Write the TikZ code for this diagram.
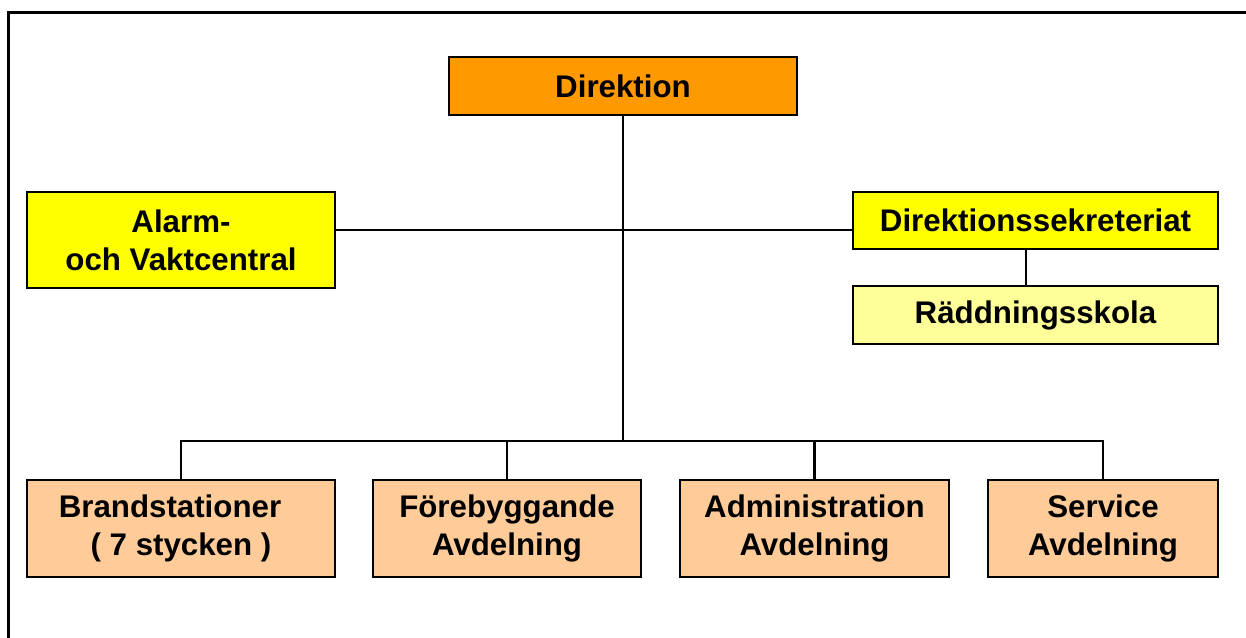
\documentclass[tikz,border=0pt]{standalone}
\usepackage{fontspec}
\setmainfont{Liberation Sans}
\usepackage{tikz}
\usetikzlibrary{positioning}

\definecolor{dirorange}{HTML}{FF9900}
\definecolor{staffyellow}{HTML}{FFFF00}
\definecolor{schoolyellow}{HTML}{FFFF99}
\definecolor{deptpeach}{HTML}{FFCC99}

\begin{document}
\begin{tikzpicture}[
    x=0.02cm, y=-0.02cm,
    box/.style={draw, line width=1.2pt, align=center, inner sep=0pt,
                font=\fontsize{17.8}{21.5}\selectfont\bfseries},
    dept/.style={box, fill=deptpeach, minimum height=1.94cm},
    link/.style={line width=1.3pt}
]
\useasboundingbox (0,0) rectangle (1246,638);
\draw[line width=1.5pt] (8.5,700) -- (8.5,12.5) -- (1300,12.5);

\node[box, fill=dirorange, minimum width=6.96cm, minimum height=1.16cm] (dir) at (623,86) {Direktion};
\node[box, fill=staffyellow, minimum width=6.16cm, minimum height=1.92cm] (alarm) at (181,240) {Alarm-\\och Vaktcentral};
\node[box, fill=staffyellow, minimum width=7.3cm, minimum height=1.14cm] (sek) at (1035.5,220.5) {Direktionssekreteriat};
\node[box, fill=schoolyellow, minimum width=7.3cm, minimum height=1.16cm] (skola) at (1035.5,315) {Räddningsskola};

\node[dept, minimum width=6.16cm] (brand) at (181,528.5) {Brandstationer\hspace*{0.44cm}\\( 7 stycken )};
\node[dept, minimum width=5.36cm] (forb) at (507,528.5) {Förebyggande\\Avdelning};
\node[dept, minimum width=5.38cm] (admin) at (814.5,528.5) {Administration\\Avdelning};
\node[dept, minimum width=4.6cm] (service) at (1103,528.5) {Service\\Avdelning};

\coordinate (cross) at (623,230);
\coordinate (hub) at (623,441);

\draw[link] (dir.south) -- (hub);
\draw[link] (alarm.east |- cross) -- (sek.west |- cross);
\draw[link] ([xshift=-0.19cm]sek.south) -- ([xshift=-0.19cm]skola.north);
\draw[link] (brand.north) |- (hub) -| (service.north);
\draw[link] (forb.north) |- (hub);
\draw[link] (admin.north) |- (hub);
\end{tikzpicture}
\end{document}
